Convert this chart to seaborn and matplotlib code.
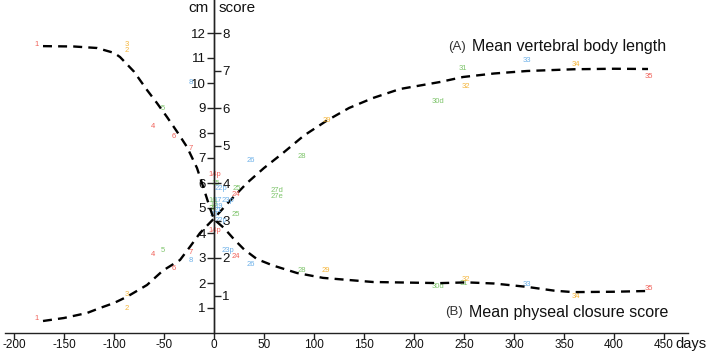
import matplotlib
matplotlib.use("Agg")
import matplotlib.pyplot as plt
import seaborn as sns
import pandas as pd

# ---- curve A: mean vertebral body length (cm) ----
curve_a_days = [-171, -150, -127, -114, -100, -87, -67, -51, -34, -24, -14, 0, 15, 33, 50,
                69, 90, 113, 135, 159, 186, 226, 249, 280, 313, 360, 400, 434]
curve_a_cm = [0.48, 0.6, 0.8, 1.0, 1.2, 1.45, 1.92, 2.5, 2.92, 3.45, 4.0, 4.58, 5.25, 6.0, 6.6,
              7.2, 7.9, 8.5, 9.0, 9.4, 9.76, 10.04, 10.24, 10.38, 10.48, 10.55, 10.57, 10.56]

# ---- curve B: mean physeal closure score ----
curve_b_days = [-171, -140, -117, -100, -94, -80, -67, -57, -47, -37, -27, -17, -10, -4, 0, 10,
                20, 30, 43, 59, 83, 109, 159, 226, 253, 280, 313, 340, 359, 400, 433]
curve_b_score = [7.65, 7.64, 7.6, 7.47, 7.36, 6.97, 6.48, 6.13, 5.76, 5.37, 4.96, 4.4, 3.83, 3.33,
                 3.03, 2.8, 2.5, 2.23, 1.97, 1.8, 1.6, 1.47, 1.36, 1.33, 1.35, 1.32, 1.23, 1.13,
                 1.09, 1.1, 1.12]

# ---- specimen labels (text, colour group, day, cm) ----
label_text = ["1", "3", "2", "8", "5", "4", "6", "7",
              "1", "3", "2", "4", "5", "6", "7", "8",
              "14p", "15", "22p", "25", "24", "23p",
              "16", "17", "18", "19", "20", "21", "20", "22p",
              "25", "14p", "23p", "24", "26", "26", "28", "27d", "27e",
              "29", "30d", "31", "32", "33", "34", "35",
              "28", "29", "30d", "31", "32", "33", "34", "35"]
label_group = ["r", "y", "y", "b", "g", "r", "r", "r",
               "r", "y", "y", "r", "g", "r", "r", "b",
               "r", "g", "b", "g", "r", "b",
               "g", "b", "g", "b", "g", "b", "b", "b",
               "g", "r", "b", "r", "b", "b", "g", "g", "g",
               "y", "g", "g", "y", "b", "y", "r",
               "g", "y", "g", "g", "y", "b", "y", "r"]
label_day = [-177, -87, -87, -23, -51, -61, -40, -23,
             -177, -87, -87, -61, -51, -40, -23, -23,
             1, 2, 7, 23, 22, 14,
             -1, 4, 0, 5, -1, 4, 0, 7,
             22, 1, 14, 22, 37, 37, 88, 63, 63,
             113, 224, 249, 252, 313, 362, 435,
             88, 112, 224, 250, 252, 313, 362, 435]
label_cm = [11.52, 11.56, 11.3, 10.04, 8.96, 8.24, 7.88, 7.36,
            0.56, 1.56, 0.96, 3.12, 3.32, 2.56, 3.24, 2.88,
            6.32, 5.98, 5.8, 5.76, 5.56, 5.32,
            5.32, 5.28, 5.12, 5.08, 4.96, 4.92, 4.72, 4.48,
            4.76, 4.08, 3.32, 3.04, 6.88, 2.72, 7.04, 5.68, 5.44,
            8.48, 9.28, 10.6, 9.84, 10.88, 10.76, 10.24,
            2.48, 2.48, 1.88, 1.98, 2.14, 1.96, 1.48, 1.8]

x_ticks = list(range(-200, 451, 50))
cm_ticks = list(range(1, 13))
score_ticks = list(range(1, 9))

palette = {"r": "#f0625a", "y": "#f5b53a", "g": "#7dc46a", "b": "#6cb0e8"}

sns.set_theme(style="white")
plt.rcParams["font.family"] = ["Liberation Sans", "DejaVu Sans"]

fig = plt.figure(figsize=(7.09, 3.53), dpi=100)
ax = fig.add_axes([0, 0, 1, 1])
ax.set_xlim(-214, 495)
ax.set_ylim(-0.8, 13.32)
ax2 = ax.twinx()
ax2.set_ylim(-0.8 / 1.5, 13.32 / 1.5)

axis_col = "#222222"
for a in (ax, ax2):
    for s in a.spines.values():
        s.set_visible(False)
ax.spines["left"].set_visible(True)
ax.spines["left"].set_position(("data", 0))
ax.spines["left"].set_bounds(0, 13.32)
ax.spines["bottom"].set_visible(True)
ax.spines["bottom"].set_position(("data", 0))
ax.spines["bottom"].set_bounds(-209, 474)
ax2.spines["right"].set_visible(True)
ax2.spines["right"].set_position(("data", 0))
ax2.spines["right"].set_bounds(0, 13.32 / 1.5)
for s in (ax.spines["left"], ax.spines["bottom"], ax2.spines["right"]):
    s.set_color(axis_col)
    s.set_linewidth(1.0)

ax.set_xticks(x_ticks)
ax.set_xticklabels([str(v) for v in x_ticks])
ax.set_yticks(cm_ticks)
ax.set_yticklabels([str(v) for v in cm_ticks])
ax2.set_yticks(score_ticks)
ax2.set_yticklabels([str(v) for v in score_ticks])
ax.tick_params(axis="x", direction="out", length=4, width=1, color=axis_col,
               labelsize=8.5, pad=0.5, labelcolor="#111111", bottom=True)
ax.tick_params(axis="y", direction="out", length=5, width=1, color=axis_col,
               labelsize=9.5, pad=1, labelcolor="#111111", left=True)
ax2.tick_params(axis="y", direction="out", length=5, width=1, color=axis_col,
                labelsize=9.5, pad=1, labelcolor="#111111", right=True)
ax.grid(False)
ax2.grid(False)

dfa = pd.DataFrame({"days": curve_a_days, "cm": curve_a_cm})
dfb = pd.DataFrame({"days": curve_b_days, "score": curve_b_score})
sns.lineplot(data=dfa, x="days", y="cm", ax=ax, color="black", lw=1.7,
             linestyle=(0, (3.8, 2.6)))
sns.lineplot(data=dfb, x="days", y="score", ax=ax2, color="black", lw=1.7,
             linestyle=(0, (3.8, 2.6)))
ax.set_xlabel("")
ax.set_ylabel("")
ax2.set_ylabel("")

for t, g, d, c in zip(label_text, label_group, label_day, label_cm):
    ax.text(d, c, t, color=palette[g], fontsize=5.5, ha="center", va="center", zorder=5)

ax.text(-5, 13.0, "cm", fontsize=11, ha="right", va="center", color="#111111")
ax.text(5, 13.0, "score", fontsize=11, ha="left", va="center", color="#111111")
ax.text(461, -0.45, "days", fontsize=10.5, ha="left", va="center", color="#111111")

ax.text(234, 11.44, "(A)", fontsize=9.5, ha="left", va="center", color="#333333")
ax.text(258, 11.44, "Mean vertebral body length", fontsize=11.5, ha="left",
        va="center", color="#111111")
ax.text(231, 0.84, "(B)", fontsize=9.5, ha="left", va="center", color="#333333")
ax.text(255, 0.84, "Mean physeal closure score", fontsize=11.5, ha="left",
        va="center", color="#111111")

fig.savefig("out.png", dpi=100)
